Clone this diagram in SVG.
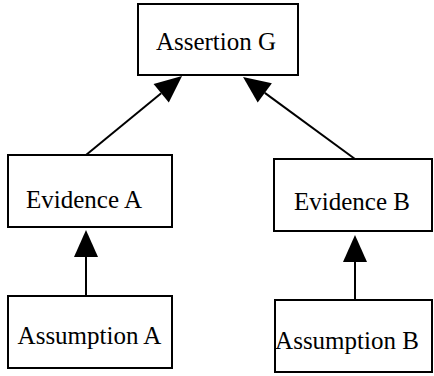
<svg xmlns="http://www.w3.org/2000/svg" width="434" height="376" viewBox="0 0 434 376">
<style>
.box{fill:#fff;stroke:#000;stroke-width:2}
.lbl{font-family:'Liberation Serif','Times New Roman',serif;font-size:25px;fill:#000;text-anchor:middle}
.edge{stroke:#000;stroke-width:2;fill:none;marker-end:url(#ah)}
</style>
<defs>
<marker id="ah" markerUnits="userSpaceOnUse" markerWidth="28" markerHeight="24" viewBox="0 0 28 24" refX="0" refY="12" orient="auto" overflow="visible">
<path d="M0,0 L27,12 L0,24 Z" fill="#000"/>
</marker>
</defs>
<rect width="434" height="376" fill="#fff"/>
<g id="connectors">
<line class="edge" x1="86" y1="155" x2="161.2" y2="93.2"/>
<line class="edge" x1="355" y1="159" x2="264.8" y2="92.9"/>
<line class="edge" x1="86" y1="296" x2="86" y2="257"/>
<line class="edge" x1="355" y1="300" x2="355" y2="262"/>
</g>
<g id="assertionG">
<rect class="box" x="138" y="4" width="160" height="71"/>
<text class="lbl" x="216" y="50">Assertion G</text>
</g>
<g id="evidenceA">
<rect class="box" x="8" y="155" width="164" height="72"/>
<text class="lbl" x="84" y="208">Evidence A</text>
</g>
<g id="evidenceB">
<rect class="box" x="274" y="159" width="158" height="72"/>
<text class="lbl" x="352" y="210">Evidence B</text>
</g>
<g id="assumptionA">
<rect class="box" x="8" y="296" width="164" height="72"/>
<text class="lbl" x="89.5" y="344">Assumption A</text>
</g>
<g id="assumptionB">
<rect class="box" x="275" y="300" width="157" height="72"/>
<text class="lbl" x="347" y="349">Assumption B</text>
</g>
</svg>
